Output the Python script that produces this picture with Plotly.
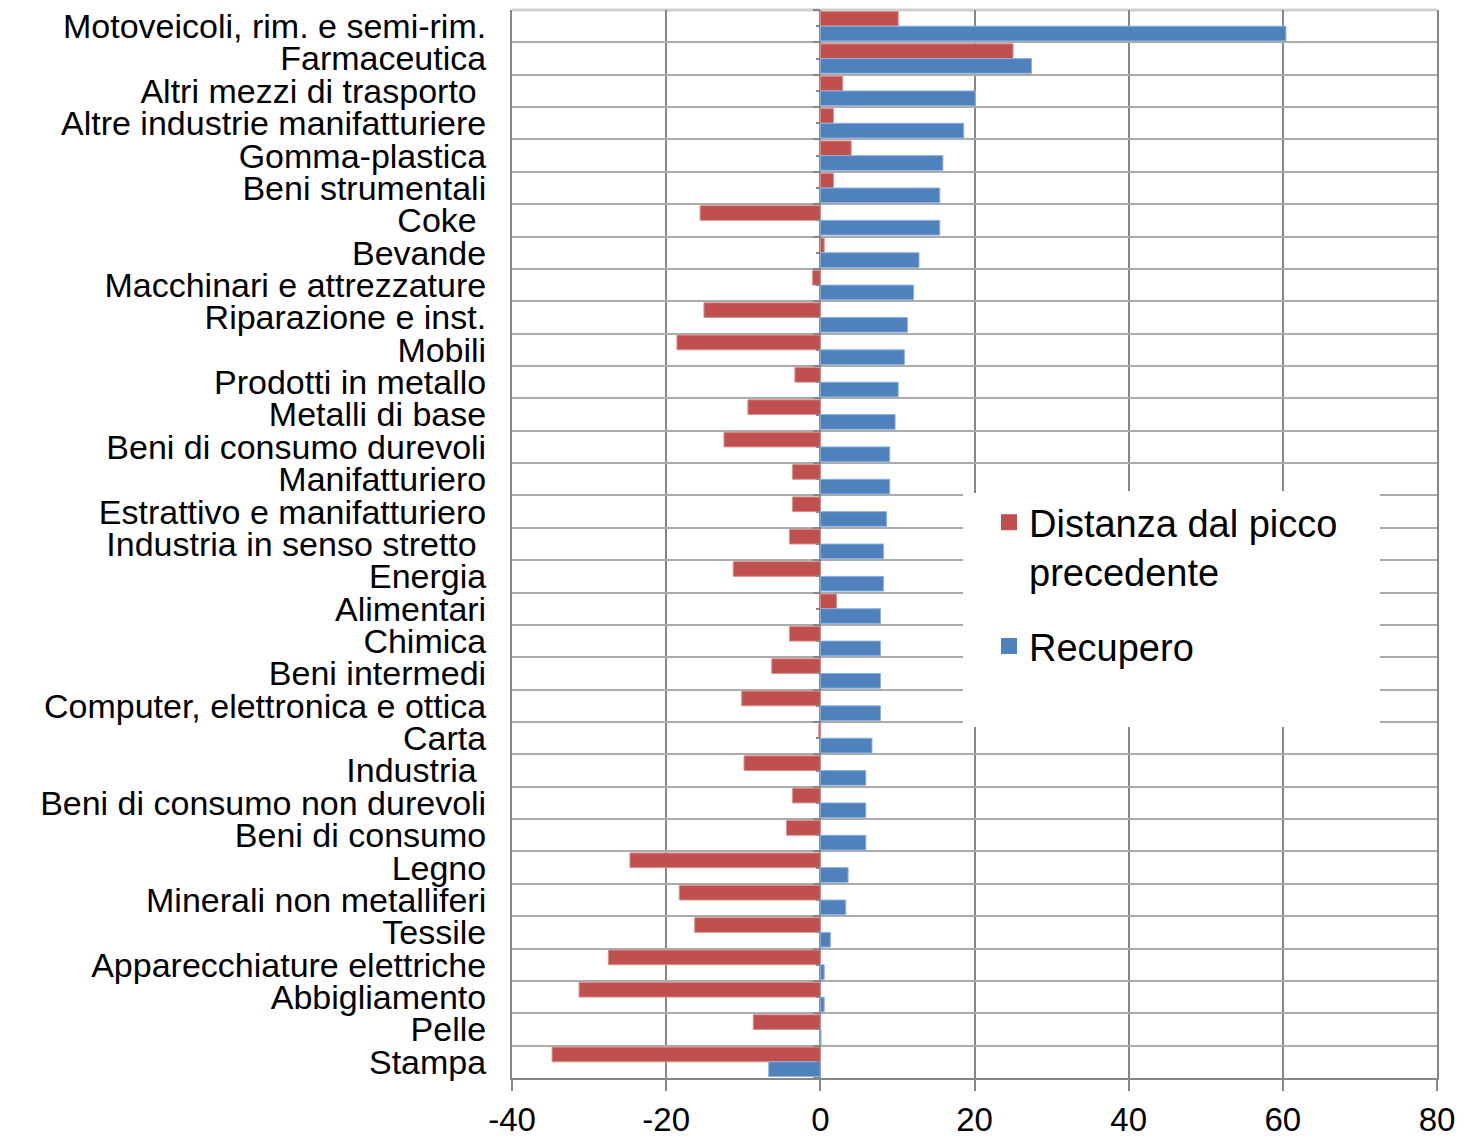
import plotly.graph_objects as go

categories = [
    "Motoveicoli, rim. e semi-rim.",
    "Farmaceutica",
    "Altri mezzi di trasporto\u00a0",
    "Altre industrie manifatturiere",
    "Gomma-plastica",
    "Beni strumentali",
    "Coke\u00a0",
    "Bevande",
    "Macchinari e attrezzature",
    "Riparazione e inst.",
    "Mobili",
    "Prodotti in metallo",
    "Metalli di base",
    "Beni di consumo durevoli",
    "Manifatturiero",
    "Estrattivo e manifatturiero",
    "Industria in senso stretto\u00a0",
    "Energia",
    "Alimentari",
    "Chimica",
    "Beni intermedi",
    "Computer, elettronica e ottica",
    "Carta",
    "Industria\u00a0",
    "Beni di consumo non durevoli",
    "Beni di consumo",
    "Legno",
    "Minerali non metalliferi",
    "Tessile",
    "Apparecchiature elettriche",
    "Abbigliamento",
    "Pelle",
    "Stampa",
]

distanza = [10.1, 25.0, 2.9, 1.7, 4.0, 1.7, -15.6, 0.5, -1.0, -15.1, -18.6, -3.3,
            -9.4, -12.5, -3.6, -3.6, -4.0, -11.3, 2.1, -4.0, -6.3, -10.2, -0.2,
            -9.9, -3.6, -4.4, -24.7, -18.3, -16.3, -27.5, -31.3, -8.7, -34.8]

recupero = [60.4, 27.4, 20.1, 18.6, 15.9, 15.5, 15.5, 12.8, 12.1, 11.3, 10.9, 10.1,
            9.7, 9.0, 9.0, 8.6, 8.2, 8.2, 7.8, 7.8, 7.8, 7.8, 6.7,
            5.9, 5.9, 5.9, 3.6, 3.3, 1.3, 0.5, 0.5, 0.1, -6.7]

series_names = ["Distanza dal picco<br>precedente", "Recupero"]
x_ticks = [-40, -20, 0, 20, 40, 60, 80]

RED = "#C0504D"
BLUE = "#4F81BD"
GRID = "#878787"
FONT = "Liberation Sans, Arial, sans-serif"

# the page body has an 8px margin; the figure is sized to fill the rest of the window
W, H, OFF = 1463 - 8, 1139 - 8, 8
PL, PR, PT, PB = 512, 1437, 10, 1078  # plot area in window pixels

fig = go.Figure()
fig.add_trace(go.Bar(y=categories, x=distanza, orientation="h", name=series_names[0],
                     marker=dict(color=RED, line=dict(color="#D9918F", width=1)),
                     showlegend=False))
fig.add_trace(go.Bar(y=categories, x=recupero, orientation="h", name=series_names[1],
                     marker=dict(color=BLUE, line=dict(color="#8DB3E2", width=1)),
                     showlegend=False))
# legend entries (drawn on the overlay axis that carries the zero-line ticks)
fig.add_trace(go.Scatter(x=[None], y=[None], mode="markers", yaxis="y2", name=series_names[0],
                         legendgroup="a",
                         marker=dict(symbol="square", size=24, color=RED)))
fig.add_trace(go.Scatter(x=[None], y=[None], mode="markers", yaxis="y2", name=series_names[1],
                         legendgroup="b",
                         marker=dict(symbol="square", size=24, color=BLUE)))

n = len(categories)
xmin, xmax = x_ticks[0], x_ticks[-1]
boundaries = [k - 0.5 for k in range(n + 1)]
centers = list(range(n))

pw, ph = PR - PL, PB - PT


def px(xw):
    return (xw - PL) / pw


def py(yw):
    return 1 - (yw - PT) / ph


fig.update_layout(
    width=W, height=H,
    margin=dict(l=PL - OFF, r=W + OFF - PR, t=PT - OFF, b=H + OFF - PB, autoexpand=False),
    paper_bgcolor="white", plot_bgcolor="white",
    font=dict(family=FONT, size=32, color="black"),
    barmode="group", bargap=0.09, bargroupgap=0,
    xaxis=dict(
        range=[xmin, xmax], tickvals=x_ticks, ticktext=[str(v) for v in x_ticks],
        showgrid=True, gridcolor=GRID, gridwidth=2,
        zeroline=True, zerolinecolor=GRID, zerolinewidth=2,
        showline=True, linecolor=GRID, linewidth=2,
        ticks="outside", ticklen=11, tickwidth=2, tickcolor=GRID,
        tickfont=dict(size=33, family=FONT, color="black"),
        ticklabelstandoff=0,
        fixedrange=True,
    ),
    yaxis=dict(
        type="category", categoryorder="array", categoryarray=categories,
        range=[n - 0.5, -0.5], tickmode="linear", tick0=0, dtick=1,
        tickson="boundaries", showgrid=True, gridcolor="#ABABAB", gridwidth=2,
        ticks="", showline=True, linecolor=GRID, linewidth=2, mirror=True,
        zeroline=False,
        tickfont=dict(size=34, family=FONT, color="black"),
        ticklabelstandoff=17,
        fixedrange=True,
    ),
    yaxis2=dict(
        overlaying="y", anchor="free", position=(0 - xmin) / (xmax - xmin), side="left",
        range=[n - 0.5, -0.5], showgrid=False, zeroline=False, showline=False,
        showticklabels=False, tickvals=boundaries, ticks="outside", ticklen=7,
        tickwidth=2, tickcolor=GRID,
        minor=dict(tickvals=centers, ticks="outside", ticklen=4, tickwidth=2, tickcolor=GRID),
        fixedrange=True,
    ),
    legend=dict(
        x=px(989), y=py(491), xanchor="left", yanchor="top",
        bgcolor="white", borderwidth=0,
        font=dict(size=38, family=FONT, color="black"),
        valign="top", tracegroupgap=22, itemsizing="trace",
    ),
    shapes=[
        dict(type="rect", xref="paper", yref="paper",
             x0=px(963), x1=px(1380), y0=py(727), y1=py(493),
             fillcolor="white", line=dict(width=0), layer="above"),
        dict(type="line", xref="paper", yref="paper", x0=0, x1=1, y0=1, y1=1,
             line=dict(color="#CFCFCF", width=3), layer="below"),
    ],
)

fig.write_html("out.html")
